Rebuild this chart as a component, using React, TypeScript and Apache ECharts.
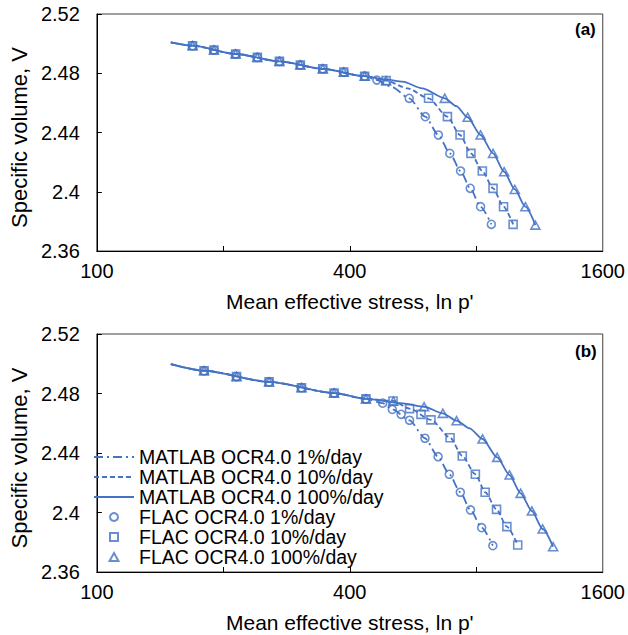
import React, { useEffect, useRef } from 'react';
import * as echarts from 'echarts';

const BLUE = '#4472C4';
const FONT = 'Arial, "Liberation Sans", sans-serif';

const NAMES = [
  'MATLAB OCR4.0 1%/day',
  'MATLAB OCR4.0 10%/day',
  'MATLAB OCR4.0 100%/day',
  'FLAC OCR4.0 1%/day',
  'FLAC OCR4.0 10%/day',
  'FLAC OCR4.0 100%/day',
];

const yTicks = { min: 2.36, max: 2.52, interval: 0.04 };
const xLabelValues = [100, 400, 1600];
const xTickValues = [200, 400, 800];

// ---------- Panel (a) ----------
const aShared = [[169, 2.4986], [190, 2.4957], [214, 2.493], [241, 2.4907], [272, 2.488], [305, 2.4856], [345, 2.483], [387, 2.4808], [434, 2.478]];
const aFlac1 = [...aShared, [464, 2.4754], [554, 2.4631], [605, 2.4507], [650, 2.4383], [692, 2.4259], [734, 2.414], [774, 2.4023], [819, 2.3899], [869, 2.378]];
const aFlac10 = [...aShared, [488, 2.475], [616, 2.4631], [683, 2.4507], [732, 2.4383], [777, 2.4259], [827, 2.414], [877, 2.4023], [929, 2.3899], [979, 2.378]];
const aFlac100 = [...aShared, [488, 2.475], [673, 2.4631], [763, 2.4503], [819, 2.4383], [877, 2.4259], [932, 2.4135], [988, 2.4016], [1047, 2.3899], [1106, 2.3775]];

const aMatStart = [[150, 2.5009], [169, 2.4986], [214, 2.493], [272, 2.488], [345, 2.483], [434, 2.478]];
const aMat1 = [...aMatStart, [464, 2.4754], [505, 2.4705], [554, 2.4631], [605, 2.4507], [650, 2.4383], [692, 2.4259], [734, 2.414], [774, 2.4023], [819, 2.3899], [869, 2.378]];
const aMat10 = [...aMatStart, [488, 2.475], [549, 2.4698], [616, 2.4631], [683, 2.4507], [732, 2.4383], [777, 2.4259], [827, 2.414], [877, 2.4023], [929, 2.3899], [979, 2.378]];
const aMat100 = [...aMatStart, [488, 2.4758], [534, 2.4743], [595, 2.4698], [673, 2.4631], [717, 2.4578], [763, 2.4503], [819, 2.4383], [877, 2.4259], [932, 2.4135], [988, 2.4016], [1047, 2.3899], [1106, 2.3775]];

// ---------- Panel (b) ----------
const bShared = [[180, 2.4953], [215, 2.4914], [257, 2.4878], [307, 2.4839], [367, 2.4803], [437, 2.4764]];
const bFlac1 = [...bShared, [479, 2.4735], [505, 2.4693], [530, 2.466], [555, 2.462], [604, 2.4499], [649, 2.4375], [690, 2.4257], [733, 2.4136], [775, 2.4017], [824, 2.3898], [876, 2.3777]];
const bFlac10 = [...bShared, [507, 2.475], [555, 2.4698], [591, 2.466], [624, 2.4623], [693, 2.4503], [741, 2.438], [796, 2.4257], [840, 2.4136], [894, 2.4021], [946, 2.3905], [1004, 2.3782]];
const bFlac100 = [...bShared, [508, 2.4748], [601, 2.4711], [666, 2.4667], [718, 2.4617], [828, 2.4494], [897, 2.4371], [960, 2.4252], [1020, 2.4129], [1085, 2.401], [1151, 2.3889], [1219, 2.377]];

const bMatStart = [[150, 2.4998], [180, 2.4953], [257, 2.4878], [367, 2.4803], [437, 2.4764]];
const bMat1 = [...bMatStart, [479, 2.4735], [505, 2.4693], [555, 2.462], [604, 2.4499], [649, 2.4375], [690, 2.4257], [733, 2.4136], [775, 2.4017], [824, 2.3898], [876, 2.3777]];
const bMat10 = [...bMatStart, [507, 2.475], [555, 2.4698], [624, 2.4623], [693, 2.4503], [741, 2.438], [796, 2.4257], [840, 2.4136], [894, 2.4021], [946, 2.3905], [1004, 2.3782]];
const bMat100 = [...bMatStart, [535, 2.4734], [601, 2.4711], [666, 2.4667], [718, 2.4617], [771, 2.4566], [828, 2.4494], [897, 2.4371], [960, 2.4252], [1020, 2.4129], [1085, 2.401], [1151, 2.3889], [1219, 2.377]];

const lineTypes: any[] = [[9, 4, 2, 4], [5, 3], 'solid'];
const symbols = ['circle', 'path://M0,0L10,0L10,10L0,10Z', 'path://M5,0L10,9L0,9Z'];
const symbolSizes = [8, 8, 9];

function panelSeries(idx: number, mats: number[][][], flacs: number[][][]) {
  const out: any[] = [];
  flacs.forEach((d, i) => {
    out.push({
      type: 'scatter',
      name: NAMES[3 + i],
      xAxisIndex: idx,
      yAxisIndex: idx,
      data: d,
      symbol: symbols[i],
      symbolSize: symbolSizes[i],
      symbolKeepAspect: true,
      itemStyle: { color: 'rgba(255,255,255,0)', borderColor: BLUE, borderWidth: 1.6 },
      z: 2,
    });
  });
  mats.forEach((d, i) => {
    out.push({
      type: 'line',
      name: NAMES[i],
      xAxisIndex: idx,
      yAxisIndex: idx,
      data: d,
      symbol: 'none',
      smooth: 0.25,
      smoothMonotone: 'x',
      lineStyle: { color: BLUE, width: 1.8, type: lineTypes[i] },
      itemStyle: { color: BLUE },
      z: 3,
    });
  });
  return out;
}

function xAxis(gridIndex: number) {
  return {
    type: 'log',
    logBase: 2,
    gridIndex,
    min: 100,
    max: 1600,
    name: "Mean effective stress, ln p'",
    nameLocation: 'middle',
    nameGap: 40,
    nameTextStyle: { fontSize: 21, color: '#000', fontFamily: FONT },
    axisLine: { show: true, lineStyle: { color: '#000', width: 1 } },
    axisTick: { show: true, inside: true, length: 5, customValues: xTickValues, lineStyle: { color: '#000' } },
    axisLabel: {
      margin: 10,
      fontSize: 20,
      color: '#000',
      fontFamily: FONT,
      customValues: xLabelValues,
      formatter: (v: number) => String(Math.round(v)),
    },
    splitLine: { show: false },
    minorTick: { show: false },
  };
}

function yAxis(gridIndex: number) {
  return {
    type: 'value',
    gridIndex,
    min: yTicks.min,
    max: yTicks.max,
    interval: yTicks.interval,
    name: 'Specific volume, V',
    nameLocation: 'middle',
    nameGap: 60,
    nameTextStyle: { fontSize: 22, color: '#000', fontFamily: FONT, padding: [0, 10, 0, 0] },
    axisLine: { show: true, lineStyle: { color: '#000', width: 1 } },
    axisTick: { show: true, inside: true, length: 5, lineStyle: { color: '#000' } },
    axisLabel: { margin: 17, fontSize: 20, color: '#000', fontFamily: FONT },
    splitLine: { show: false },
  };
}

export default function App() {
  const ref = useRef<HTMLDivElement>(null);
  useEffect(() => {
    if (!ref.current) return;
    const chart = echarts.init(ref.current, null, { renderer: 'svg' });
    chart.setOption({
      animation: false,
      backgroundColor: '#fff',
      textStyle: { fontFamily: FONT },
      grid: [
        { left: 87, top: 14, width: 518, height: 237, show: true, borderColor: '#404040', borderWidth: 1, backgroundColor: 'transparent' },
        { left: 87, top: 334, width: 518, height: 238, show: true, borderColor: '#404040', borderWidth: 1, backgroundColor: 'transparent' },
      ],
      xAxis: [xAxis(0), xAxis(1)],
      yAxis: [yAxis(0), yAxis(1)],
      legend: {
        orient: 'vertical',
        left: 93,
        top: 447,
        itemWidth: 40,
        itemHeight: 8,
        itemGap: 0,
        padding: 0,
        symbolKeepAspect: true,
        data: NAMES.map((n, i) => (i < 3 ? { name: n, itemStyle: { opacity: 0 } } : { name: n })),
        selectedMode: false,
        textStyle: { fontSize: 19.5, lineHeight: 19.5, color: '#000', fontFamily: FONT },
      },
      graphic: [
        { type: 'text', left: 575, top: 21, style: { text: '(a)', font: `bold 17px ${FONT}`, fill: '#000' } },
        { type: 'text', left: 575, top: 343, style: { text: '(b)', font: `bold 17px ${FONT}`, fill: '#000' } },
      ],
      series: [
        ...panelSeries(0, [aMat1, aMat10, aMat100], [aFlac1, aFlac10, aFlac100]),
        ...panelSeries(1, [bMat1, bMat10, bMat100], [bFlac1, bFlac10, bFlac100]),
      ],
    });
    return () => chart.dispose();
  }, []);
  return <div ref={ref} style={{ position: 'absolute', left: 0, top: 0, width: 628, height: 635 }} />;
}
